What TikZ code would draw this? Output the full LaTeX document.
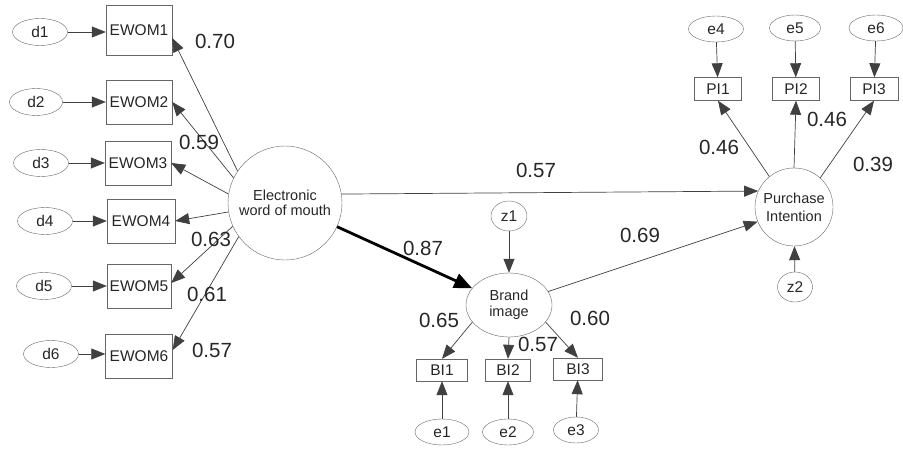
\documentclass[tikz,border=0pt]{standalone}
\usepackage{fontspec}
\setmainfont{Liberation Sans}
\usetikzlibrary{
    arrows.meta,
    shapes,
    calc,
    positioning
}

\tikzset{
    obs/.style={draw=black!60, rectangle, inner sep=0pt, minimum width=66pt, minimum height=44pt,
        font=\fontsize{15.5}{16}\selectfont, text=black!85},
    small/.style={obs, minimum width=48pt, minimum height=22pt},
    err/.style={draw=black!60, ellipse, inner sep=0pt, minimum width=55pt, minimum height=27pt,
        font=\fontsize{15.5}{16}\selectfont, text=black!85},
    res/.style={err, minimum width=36pt, minimum height=30pt},
    latent/.style={draw=black!60, circle, inner sep=0pt, align=center,
        font=\fontsize{14.5}{15}\selectfont, text=black!85},
    link/.style={draw=black!75, line width=0.7pt, -{Triangle[length=14pt,width=11pt]}},
    strong/.style={draw=black, line width=2.8pt, -{Triangle[length=18pt,width=15pt]}},
    coef/.style={inner sep=0pt, font=\fontsize{20.5}{22}\selectfont, text=black!85}
}

\begin{document}
\begin{tikzpicture}[x=1pt, y=-1pt]
    \useasboundingbox (0,0) rectangle (903,452);

    % latent variables
    \node[latent, minimum size=114pt] (ewom) at (285,203) {Electronic\\word of mouth};
    \node[latent, ellipse, minimum width=86pt, minimum height=64pt] (bi) at (509,305) {Brand\\[1pt]image};
    \node[latent, minimum size=78pt] (pi) at (794,207) {Purchase\\[3pt]Intention};

    % eWOM indicators
    \node[obs, minimum height=50pt] (ewom1) at (139,30) {EWOM1};
    \node[obs] (ewom2) at (139,102) {EWOM2};
    \node[obs] (ewom3) at (138,163) {EWOM3};
    \node[obs, minimum width=68pt] (ewom4) at (141,221) {EWOM4};
    \node[obs, minimum width=64pt] (ewom5) at (139,286) {EWOM5};
    \node[obs, minimum width=67pt] (ewom6) at (139,356) {EWOM6};

    \node[err] (d1) at (40,32) {d1};
    \node[err, minimum width=53pt] (d2) at (36,102) {d2};
    \node[err] (d3) at (41,163) {d3};
    \node[err] (d4) at (45,221) {d4};
    \node[err] (d5) at (44,286) {d5};
    \node[err] (d6) at (51,354) {d6};

    % brand image indicators
    \node[small, minimum width=51pt] (bi1) at (442,370) {BI1};
    \node[small, minimum width=45pt] (bi2) at (508,370) {BI2};
    \node[small, minimum width=49pt] (bi3) at (578,369) {BI3};
    \node[err, minimum width=54pt, minimum height=26pt] (e1) at (442,432) {e1};
    \node[err, minimum width=51pt, minimum height=26pt] (e2) at (508,432) {e2};
    \node[err, minimum width=45pt, minimum height=26pt] (e3) at (576,430) {e3};
    \node[res] (z1) at (509,216) {z1};

    % purchase intention indicators
    \node[small, minimum width=47pt, minimum height=23pt] (pi1) at (718,89) {PI1};
    \node[small, minimum width=47pt, minimum height=23pt] (pi2) at (796,89) {PI2};
    \node[small, minimum width=48pt, minimum height=23pt] (pi3) at (874,89) {PI3};
    \node[err, minimum width=55pt, minimum height=26pt] (e4) at (716,29) {e4};
    \node[err, minimum width=51pt, minimum height=26pt] (e5) at (795,28) {e5};
    \node[err, minimum width=54pt, minimum height=26pt] (e6) at (876,28) {e6};
    \node[res, minimum width=35pt] (z2) at (795,287) {z2};

    % errors
    \draw[link] (d1) -- (d1 -| ewom1.west);
    \draw[link] (d2) -- (ewom2);
    \draw[link] (d3) -- (ewom3);
    \draw[link] (d4) -- (ewom4);
    \draw[link] (d5) -- (ewom5);
    \draw[link] (d6) -- (d6 -| ewom6.west);
    \draw[link] (e1) -- (bi1);
    \draw[link] (e2) -- (bi2);
    \draw[link] (e3) -- (bi3);
    \draw[link] (e4) -- (pi1);
    \draw[link] (e5) -- (pi2);
    \draw[link] (e6) -- (pi3);
    \draw[link] (z1) -- (bi);
    \draw[link] (z2) -- (pi);

    % loadings
    \draw[link] (ewom.146) -- ($(ewom1.east)+(0,8)$);
    \draw[link] (ewom.154) -- (ewom2.east);
    \draw[link] (ewom.171) -- (ewom3.east);
    \draw[link] (ewom.189) -- (ewom4.east);
    \draw[link] (ewom.204) -- ($(ewom5.east)+(0,-3)$);
    \draw[link] (ewom.216) -- ($(ewom6.east)+(0,-6)$);
    \draw[link] (bi.205) -- (bi1.north);
    \draw[link] (bi.south) -- (bi2.north);
    \draw[link] (bi.335) -- (bi3.north);
    \draw[link] (pi.129) -- (pi1.south);
    \draw[link] (pi.north) -- (pi2.south);
    \draw[link] (pi.48) -- (pi3.south);

    % structural paths
    \draw[strong] (ewom) -- (bi);
    \draw[link] (ewom.9) -- (pi.156);
    \draw[link] (bi.19) -- (pi.202);

    % estimates
    \node[coef] (c1) at (215,41) {0.70};
    \node[coef] (c2) at (199,142) {0.59};
    \node[coef] (c4) at (211,239) {0.63};
    \node[coef] (c5) at (207,294) {0.61};
    \node[coef] (c6) at (212,350) {0.57};
    \node[coef] (cwp) at (536,170) {0.57};
    \node[coef] (cwb) at (423,248) {0.87};
    \node[coef] (cbp) at (640,235) {0.69};
    \node[coef] (cb1) at (439,320) {0.65};
    \node[coef] (cb2) at (538,344) {0.57};
    \node[coef] (cb3) at (590,318) {0.60};
    \node[coef] (cp1) at (719,147) {0.46};
    \node[coef] (cp2) at (827,119) {0.46};
    \node[coef] (cp3) at (873,164) {0.39};
\end{tikzpicture}
\end{document}
